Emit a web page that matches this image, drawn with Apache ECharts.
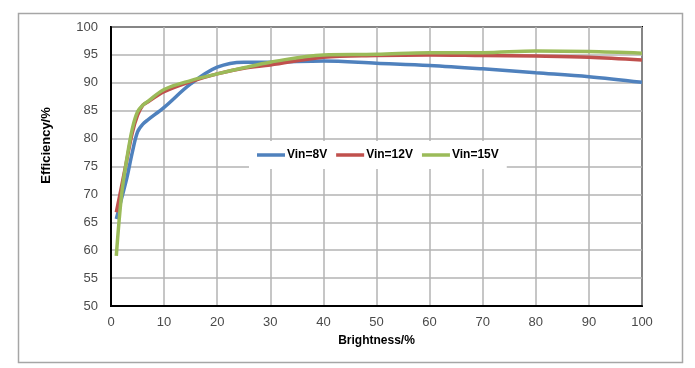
<!DOCTYPE html>
<html><head><meta charset="utf-8">
<script src="https://cdn.jsdelivr.net/npm/echarts@6/dist/echarts.min.js"></script>
<style>html,body{margin:0;padding:0;background:#fff}#c{width:695px;height:368px}</style>
</head><body><div id="c"></div>
<script>
const brightness = [1, 2, 3, 4, 5, 6, 7, 10, 15, 20, 25, 30, 40, 50, 60, 70, 80, 90, 100];
const vin8  = [65.6, 69.3, 73.0, 77.5, 81.2, 82.6, 83.4, 85.6, 89.8, 92.8, 93.7, 93.7, 93.9, 93.5, 93.1, 92.5, 91.8, 91.1, 90.1];
const vin12 = [66.8, 71.5, 76.3, 81.0, 84.2, 86.0, 86.6, 88.4, 90.2, 91.6, 92.6, 93.2, 94.6, 94.9, 95.0, 94.9, 94.8, 94.6, 94.1];
const vin15 = [59.0, 70.0, 76.5, 81.7, 84.8, 86.0, 86.7, 88.8, 90.4, 91.6, 92.7, 93.7, 95.0, 95.1, 95.4, 95.4, 95.7, 95.6, 95.3];
const seriesNames = ['Vin=8V', 'Vin=12V', 'Vin=15V'];
const colors = ['#4F81BD', '#C0504D', '#9BBB59'];
const allVals = [vin8, vin12, vin15];

const chart = echarts.init(document.getElementById('c'), null, {renderer: 'canvas'});
const sans = "'Liberation Sans', Arial, sans-serif";
chart.setOption({
  animation: false,
  backgroundColor: '#fff',
  graphic: [{
    type: 'rect', left: 16, top: 11, z: -10,
    shape: {width: 664, height: 349},
    style: {fill: 'none', stroke: '#A6A6A6', lineWidth: 1.5}
  }],
  grid: {left: 111, right: 53, top: 27, bottom: 62, containLabel: false,
         show: true, borderColor: '#000', borderWidth: 2, backgroundColor: 'transparent'},
  legend: {
    data: seriesNames,
    left: 249, top: 141, width: 258,
    backgroundColor: '#fff',
    padding: [8, 8, 8, 8],
    icon: 'rect', itemWidth: 28, itemHeight: 3.5, itemGap: 9,
    textStyle: {fontFamily: sans, fontWeight: 'bold', fontSize: 12, color: '#000', padding: [0, 0, 0, -3]}
  },
  xAxis: {
    type: 'value', min: 0, max: 100, interval: 10,
    name: 'Brightness/%', nameLocation: 'middle', nameGap: 29,
    nameTextStyle: {fontFamily: sans, fontWeight: 'bold', fontSize: 12, color: '#000'},
    axisLine: {show: true, lineStyle: {color: '#000', width: 2}},
    axisTick: {show: false},
    axisLabel: {fontFamily: sans, fontSize: 13, color: '#4a4a4a', margin: 10},
    splitLine: {show: true, lineStyle: {color: '#B3B3B3', width: 1.5}}
  },
  yAxis: {
    type: 'value', min: 50, max: 100, interval: 5,
    name: 'Efficiency/%', nameLocation: 'middle', nameGap: 58, nameRotate: 90,
    nameTextStyle: {fontFamily: sans, fontWeight: 'bold', fontSize: 13, color: '#000', padding: [0, 0, 0, 42]},
    axisLine: {show: true, lineStyle: {color: '#000', width: 2}},
    axisTick: {show: false},
    axisLabel: {fontFamily: sans, fontSize: 13, color: '#4a4a4a', margin: 13},
    splitLine: {show: true, lineStyle: {color: '#B3B3B3', width: 1.5}}
  },
  series: seriesNames.map((n, i) => ({
    name: n, type: 'line', smooth: 0.35, showSymbol: false, symbol: 'none',
    color: colors[i],
    lineStyle: {width: 3.5, color: colors[i]},
    z: 3 + i,
    data: brightness.map((b, j) => [b, allVals[i][j]])
  }))
});
</script></body></html>
